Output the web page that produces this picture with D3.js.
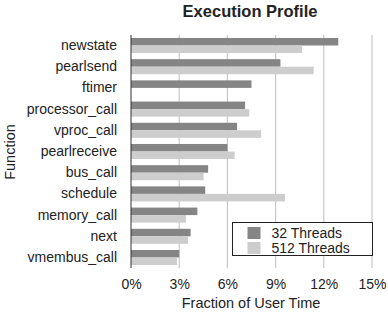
<!DOCTYPE html>
<html>
<head>
<meta charset="UTF-8">
<style>
  body { margin: 0; background: #fff; }
  text { font-family: "Liberation Sans", Arial, sans-serif; fill: #222; }
</style>
</head>
<body>
<svg width="388" height="316"></svg>
<script src="https://d3js.org/d3.v7.min.js"></script>
<script>
  // données du graphique
  const functions = ["newstate", "pearlsend", "ftimer", "processor_call", "vproc_call",
    "pearlreceive", "bus_call", "schedule", "memory_call", "next", "vmembus_call"];
  const threads32 = [12.9, 9.3, 7.5, 7.1, 6.6, 6.0, 4.8, 4.62, 4.13, 3.71, 3.0];
  const threads512 = [10.65, 11.37, 0, 7.36, 8.1, 6.45, 4.52, 9.58, 3.42, 3.55, 2.86];
  const series = ["32 Threads", "512 Threads"];
  const ticks = [0, 3, 6, 9, 12, 15];

  const svg = d3.select("svg");
  const plotLeft = 131, plotRight = 372, plotTop = 35, plotBottom = 268;

  const x = d3.scaleLinear().domain([0, 15]).range([plotLeft, plotRight]);
  const y = d3.scaleBand().domain(functions).range([plotTop, plotBottom]).paddingInner(0.29).paddingOuter(0.14);
  const sub = d3.scaleBand().domain(series).range([0, y.bandwidth()]);
  const color = d3.scaleOrdinal().domain(series).range(["#858585", "#cdcdcd"]);

  // grille verticale
  svg.append("g").selectAll("line")
    .data(ticks.slice(1))
    .join("line")
    .attr("x1", d => x(d)).attr("x2", d => x(d))
    .attr("y1", plotTop).attr("y2", plotBottom)
    .attr("stroke", "#c8c8c8").attr("stroke-width", 1.2);

  // barres
  const rows = functions.map((f, i) => ({ f, vals: [threads32[i], threads512[i]] }));
  const g = svg.append("g").selectAll("g")
    .data(rows)
    .join("g")
    .attr("transform", d => `translate(0,${y(d.f)})`);
  g.selectAll("rect")
    .data(d => d.vals.map((v, j) => ({ s: series[j], v })))
    .join("rect")
    .attr("x", x(0))
    .attr("y", d => sub(d.s))
    .attr("width", d => x(d.v) - x(0))
    .attr("height", sub.bandwidth())
    .attr("fill", d => color(d.s));

  // axe gauche
  svg.append("line")
    .attr("x1", plotLeft).attr("x2", plotLeft)
    .attr("y1", plotTop).attr("y2", plotBottom)
    .attr("stroke", "#333").attr("stroke-width", 1);

  const yAxis = svg.append("g")
    .attr("transform", `translate(${plotLeft},0)`)
    .call(d3.axisLeft(y).tickSize(0).tickPadding(14));
  yAxis.select(".domain").remove();
  yAxis.selectAll("text").style("font-size", "14px").style("font-family", "Liberation Sans, Arial, sans-serif").attr("fill", "#222");

  // axe du bas
  const xAxis = svg.append("g")
    .attr("transform", `translate(0,${plotBottom})`)
    .call(d3.axisBottom(x).tickValues(ticks).tickSize(0).tickPadding(11).tickFormat(d => d + "%"));
  xAxis.select(".domain").remove();
  xAxis.selectAll("text").style("font-size", "14px").style("font-family", "Liberation Sans, Arial, sans-serif").attr("fill", "#222");

  // titres
  svg.append("text")
    .attr("x", 250).attr("y", 17)
    .attr("text-anchor", "middle")
    .style("font-size", "16.5px").style("font-weight", "bold")
    .text("Execution Profile");

  svg.append("text")
    .attr("x", 251).attr("y", 308)
    .attr("text-anchor", "middle")
    .style("font-size", "14.5px")
    .text("Fraction of User Time");

  svg.append("text")
    .attr("transform", "translate(15,152) rotate(-90)")
    .attr("text-anchor", "middle")
    .style("font-size", "14.5px")
    .text("Function");

  // légende
  const leg = svg.append("g").attr("transform", "translate(232.5,222.5)");
  leg.append("rect")
    .attr("width", 140).attr("height", 33)
    .attr("fill", "#fff").attr("stroke", "#222").attr("stroke-width", 1);
  series.forEach((s, i) => {
    leg.append("rect")
      .attr("x", 15).attr("y", 4.5 + i * 15)
      .attr("width", 13).attr("height", 12)
      .attr("fill", color(s));
    leg.append("text")
      .attr("x", 39).attr("y", 15.5 + i * 15)
      .style("font-size", "14px")
      .text(s);
  });
</script>
</body>
</html>
